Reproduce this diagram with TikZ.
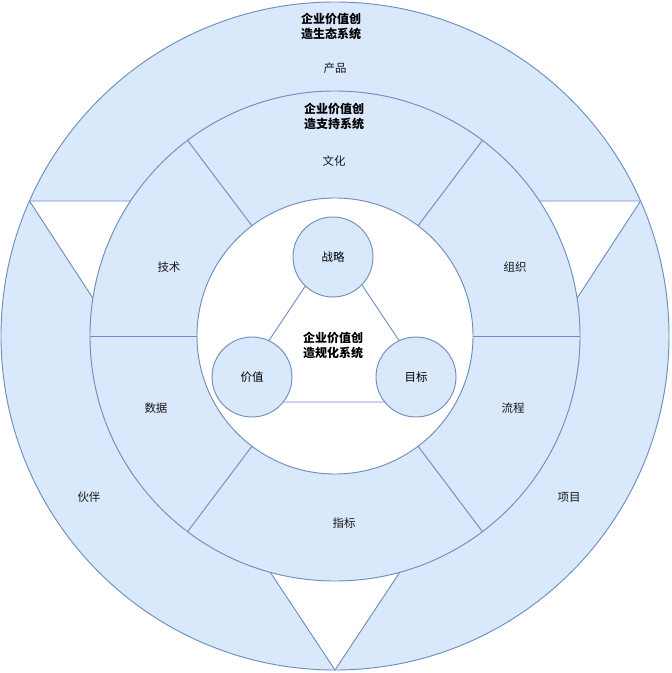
\documentclass[tikz,border=0pt]{standalone}
\usepackage{fontspec}
\newfontfamily\cjk{Noto Sans CJK SC}
\definecolor{ringfill}{HTML}{DAE8FC}
\definecolor{ringline}{HTML}{6C8EBF}
\tikzset{
    ring/.style={draw=ringline, fill=ringfill, line width=0.7pt},
    hole/.style={draw=ringline, fill=white, line width=0.7pt},
    cut/.style={draw=ringline, line width=0.7pt},
    ball/.style={circle, ring, minimum size=60pt, inner sep=0pt, font=\cjk\fontsize{8.6}{10}\selectfont},
    lbl/.style={font=\cjk\fontsize{8.6}{10}\selectfont, text=black!90},
    ttl/.style={align=center, font=\cjk\bfseries\fontsize{9}{11.3}\selectfont}
}
\begin{document}
\begin{tikzpicture}[x=0.75pt, y=0.75pt]
    \useasboundingbox (-335, -337) rectangle (336, 336);

    \draw[ring] (0, 0) circle (250.5pt);

    \draw[hole] (-305.5, 135) -- (-204.4, 135) -- (-242.1, 37.8) -- cycle;
    \draw[hole] (305.5, 135) -- (204.4, 135) -- (242.1, 37.8) -- cycle;
    \draw[hole] (-64.7, -236.3) -- (64.7, -236.3) -- (0, -334) -- cycle;

    \draw[ring] (0, 0) circle (183.75pt);
    \foreach \a in {0, 53, 127, 180, 233, 307}
        \draw[cut] (\a:103.5pt) -- (\a:183.75pt);
    \draw[hole] (0, 0) circle (103.5pt);

    \coordinate (tritop) at (-1, 93);
    \coordinate (trileft) at (-107, -66);
    \coordinate (triright) at (105, -66);
    \draw[cut] (tritop) -- (trileft) -- (triright) -- cycle;

    \node[ball] (zhanlue) at (-2, 79) {战略};
    \node[ball] (jiazhi) at (-83, -41) {价值};
    \node[ball] (mubiao) at (81, -41) {目标};

    \node[ttl] (shengtai) at (-4, 310) {企业价值创\\造生态系统};
    \node[ttl] (zhichi) at (-1, 220) {企业价值创\\造支持系统};
    \node[ttl] (guihua) at (-2, -9) {企业价值创\\造规化系统};

    \node[lbl] (chanpin) at (0, 268) {产品};
    \node[lbl] (wenhua) at (-1, 175) {文化};
    \node[lbl] (jishu) at (-166, 69) {技术};
    \node[lbl] (zuzhi) at (180, 69) {组织};
    \node[lbl] (shuju) at (-179, -72) {数据};
    \node[lbl] (liucheng) at (178, -72) {流程};
    \node[lbl] (huoban) at (-246, -161) {伙伴};
    \node[lbl] (xiangmu) at (234, -161) {项目};
    \node[lbl] (zhibiao) at (9, -187) {指标};
\end{tikzpicture}
\end{document}
